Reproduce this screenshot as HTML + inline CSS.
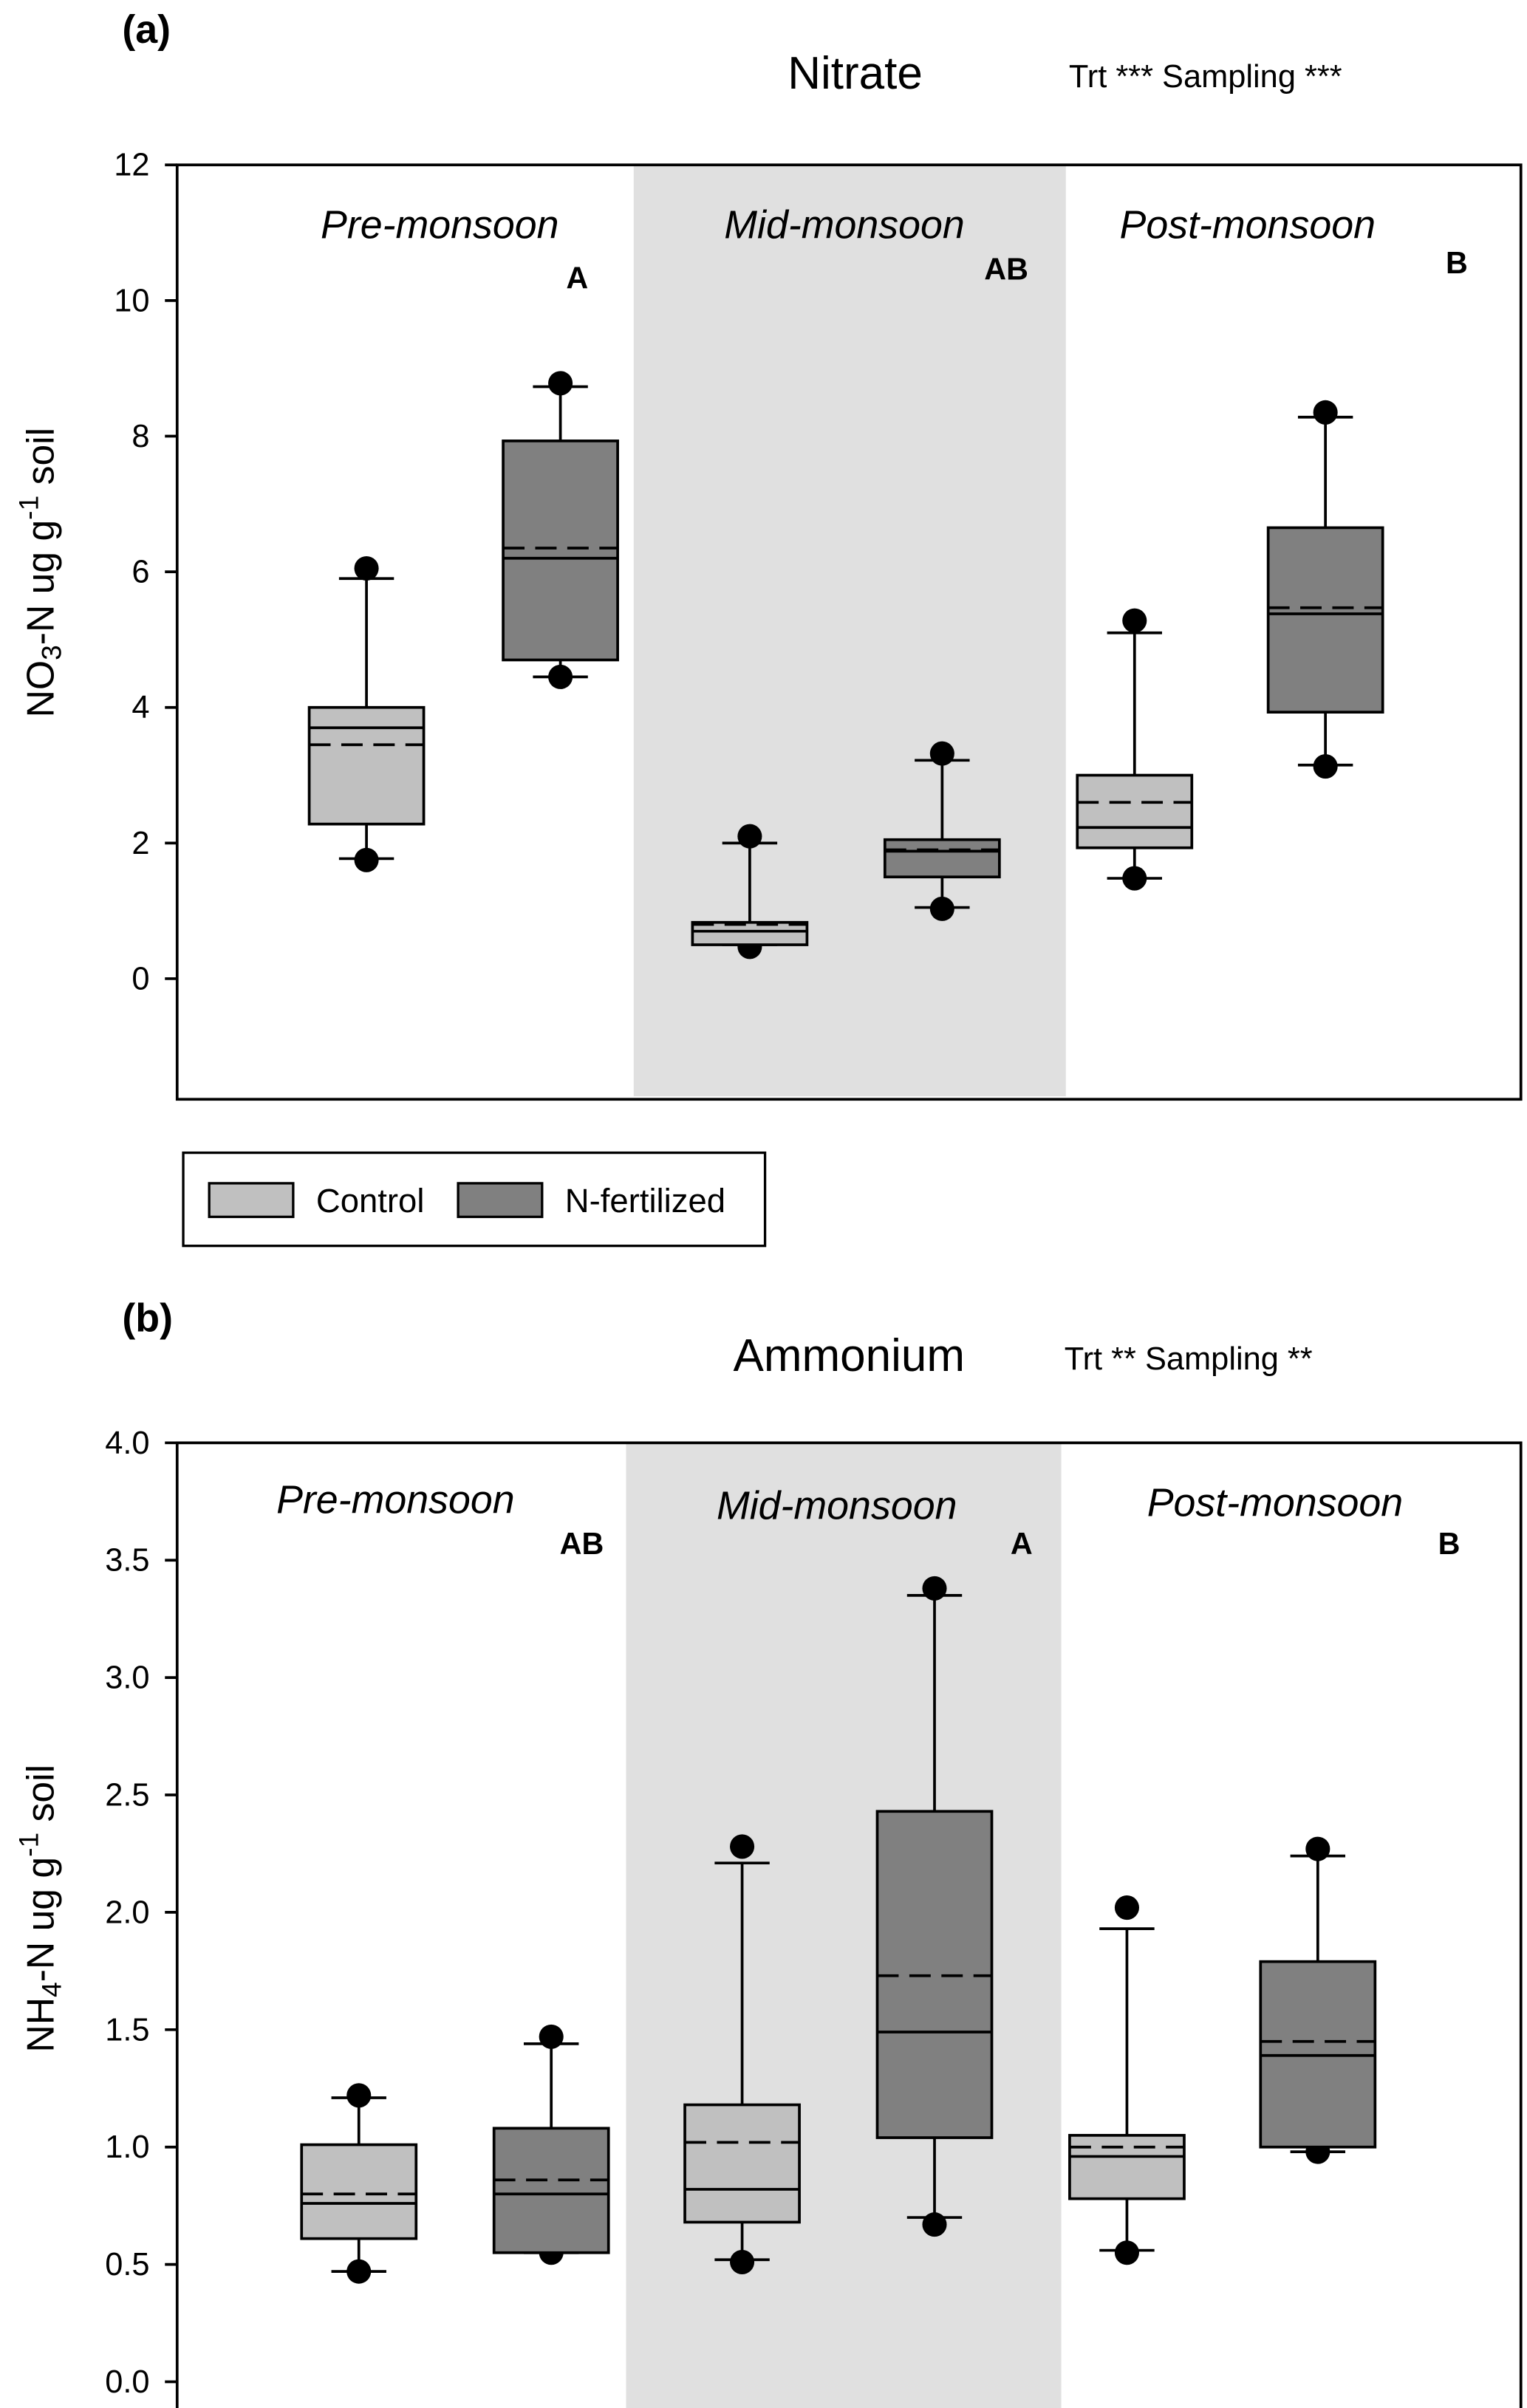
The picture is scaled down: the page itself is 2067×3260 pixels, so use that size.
<!DOCTYPE html>
<html><head><meta charset="utf-8"><style>
html,body{margin:0;padding:0;background:#fff}
svg{display:block}
text{font-family:"Liberation Sans",sans-serif;fill:#000}
</style></head><body>
<svg id="chart" xmlns="http://www.w3.org/2000/svg" width="2067" height="3260" viewBox="0 0 1000 1577.16">
<rect width="1000" height="1577.16" fill="#fff"/>
<g id="panelA"></g>
<g id="panelB"></g>
<g>
  <rect x="120" y="755" width="381" height="61" fill="#fff" stroke="#000" stroke-width="1.6"/>
  <rect x="137" y="775" width="55" height="22" fill="#c0c0c0" stroke="#000" stroke-width="1.6"/>
  <text x="207" y="794" font-size="22">Control</text>
  <rect x="300" y="775" width="55" height="22" fill="#808080" stroke="#000" stroke-width="1.6"/>
  <text x="370" y="794" font-size="22">N-fertilized</text>
</g>
</svg>
<script>
// Panel A data (Nitrate)
const seasons = ["Pre-monsoon","Mid-monsoon","Post-monsoon"];
const groups = ["Control","N-fertilized"];
const aTicks = [0,2,4,6,8,10,12];
const aLetters = ["A","AB","B"];
const aWhiskerLo = [1.77,4.45,0.5,1.05,1.48,3.15];
const aQ1 = [2.28,4.7,0.5,1.5,1.93,3.93];
const aMedian = [3.7,6.2,0.7,1.88,2.23,5.38];
const aMean = [3.45,6.35,0.8,1.9,2.6,5.47];
const aQ3 = [4.0,7.93,0.83,2.05,3.0,6.65];
const aWhiskerHi = [5.9,8.73,2.0,3.22,5.1,8.28];
const aOutHi = [6.05,8.78,2.1,3.32,5.28,8.35];
const aOutLo = [1.75,4.45,0.47,1.03,1.48,3.13];
// Panel B data (Ammonium)
const bTicks = [0,0.5,1,1.5,2,2.5,3,3.5,4];
const bLetters = ["AB","A","B"];
const bWhiskerLo = [0.47,0.55,0.52,0.7,0.56,0.98];
const bQ1 = [0.61,0.55,0.68,1.04,0.78,1.0];
const bMedian = [0.76,0.8,0.82,1.49,0.96,1.39];
const bMean = [0.8,0.86,1.02,1.73,1.0,1.45];
const bQ3 = [1.01,1.08,1.18,2.43,1.05,1.79];
const bWhiskerHi = [1.21,1.44,2.21,3.35,1.93,2.24];
const bOutHi = [1.22,1.47,2.28,3.38,2.02,2.27];
const bOutLo = [0.47,0.55,0.51,0.67,0.55,0.98];

const NS="http://www.w3.org/2000/svg";
function mk(parent,tag,attrs,txt){const e=document.createElementNS(NS,tag);for(const k in attrs)e.setAttribute(k,attrs[k]);if(txt!==undefined)e.textContent=txt;parent.appendChild(e);return e;}

function panel(g,cfg){
  const y=v=>cfg.y0+(v-cfg.v0)*(cfg.y1-cfg.y0)/(cfg.v1-cfg.v0);
  const L=116,R=996,SW=1.8;
  const shade=mk(g,'rect',{x:cfg.shadeX0,y:cfg.top,width:cfg.shadeX1-cfg.shadeX0,height:cfg.bottom-cfg.top-2,fill:'#e0e0e0'});
  
  
  const fr=mk(g,'rect',{x:L,y:cfg.top,width:R-L,height:cfg.bottom-cfg.top,fill:'none',stroke:'#000','stroke-width':SW});
  
  
  cfg.ticks.forEach(t=>{
    const yy=y(t);
    const tk=mk(g,'line',{x1:L-8,x2:L,y1:yy,y2:yy,stroke:'#000','stroke-width':SW});
    
    
    const lb=mk(g,'text',{x:L-18,y:yy+7,'font-size':21,'text-anchor':'end'},cfg.fmt(t));
    
    
  });
  const yt=mk(g,'text',{x:0,y:0,'font-size':25,'text-anchor':'middle',transform:`translate(${cfg.ytx},${cfg.yty}) rotate(-90)`});
  
  
  mk(yt,'tspan',{},cfg.ion[0]);
  mk(yt,'tspan',{'font-size':18,dy:5},cfg.ion[1]);
  mk(yt,'tspan',{dy:-5},'-N ug g');
  mk(yt,'tspan',{'font-size':18,dy:-10},'-1');
  mk(yt,'tspan',{dy:10},' soil');
  const pl=mk(g,'text',{x:80,y:cfg.tagY,'font-size':26,'font-weight':'bold'},cfg.tag);
  
  
  const ti=mk(g,'text',{x:cfg.titleX,y:cfg.titleY,'font-size':30,'text-anchor':'middle'},cfg.title);
  
  
  const st=mk(g,'text',{x:cfg.statX,y:cfg.titleY-1,'font-size':21},cfg.stat);
  
  
  seasons.forEach((s,i)=>{
    const t=mk(g,'text',{x:cfg.seasonX[i],y:cfg.seasonY[i],'font-size':26,'font-style':'italic','text-anchor':'middle'},s);
    
    
    const l=mk(g,'text',{x:cfg.letterX[i],y:cfg.letterY[i],'font-size':20,'font-weight':'bold','text-anchor':'middle'},cfg.letters[i]);
    
    
  });
  const d=cfg.d;
  cfg.cx.forEach((cx,i)=>{
    const bg=mk(g,'g',{});
    
    
    const hw=37.5,cw=18;
    mk(bg,'line',{x1:cx,x2:cx,y1:y(d.hi[i]),y2:y(d.q3[i]),stroke:'#000','stroke-width':SW});
    mk(bg,'line',{x1:cx,x2:cx,y1:y(d.lo[i]),y2:y(d.q1[i]),stroke:'#000','stroke-width':SW});
    mk(bg,'line',{x1:cx-cw,x2:cx+cw,y1:y(d.hi[i]),y2:y(d.hi[i]),stroke:'#000','stroke-width':SW});
    mk(bg,'line',{x1:cx-cw,x2:cx+cw,y1:y(d.lo[i]),y2:y(d.lo[i]),stroke:'#000','stroke-width':SW});
    mk(bg,'circle',{cx:cx,cy:y(d.oh[i]),r:8,fill:'#000'});
    mk(bg,'circle',{cx:cx,cy:y(d.ol[i]),r:8,fill:'#000'});
    mk(bg,'rect',{x:cx-hw,y:y(d.q3[i]),width:2*hw,height:y(d.q1[i])-y(d.q3[i]),fill:i%2?'#808080':'#c0c0c0',stroke:'#000','stroke-width':SW});
    mk(bg,'line',{x1:cx-hw,x2:cx+hw,y1:y(d.med[i]),y2:y(d.med[i]),stroke:'#000','stroke-width':SW});
    mk(bg,'line',{x1:cx-hw,x2:cx+hw,y1:y(d.mean[i]),y2:y(d.mean[i]),stroke:'#000','stroke-width':SW,'stroke-dasharray':'14,7'});
  });
}

panel(document.getElementById('panelA'),{
  v0:0,v1:12,y0:641,y1:108,top:108,bottom:720,shadeX0:415,shadeX1:698,
  ticks:aTicks,fmt:t=>String(t),ytx:35,yty:375,ion:['NO','3'],
  tag:'(a)',tagY:28,title:'Nitrate',titleX:560,titleY:58,statX:700,stat:'Trt *** Sampling ***',
  seasonX:[288,553,817],seasonY:[156,156,156],letters:aLetters,letterX:[378,659,954],letterY:[189,183,179],
  cx:[240,367,491,617,743,868],
  d:{lo:aWhiskerLo,q1:aQ1,med:aMedian,mean:aMean,q3:aQ3,hi:aWhiskerHi,oh:aOutHi,ol:aOutLo}
});
panel(document.getElementById('panelB'),{
  v0:0,v1:4,y0:1560,y1:945,top:945,bottom:1600,shadeX0:410,shadeX1:695,
  ticks:bTicks,fmt:t=>t.toFixed(1),ytx:35,yty:1250,ion:['NH','4'],
  tag:'(b)',tagY:872,title:'Ammonium',titleX:556,titleY:898,statX:697,stat:'Trt ** Sampling **',
  seasonX:[259,548,835],seasonY:[991,995,993],letters:bLetters,letterX:[381,669,949],letterY:[1018,1018,1018],
  cx:[235,361,486,612,738,863],
  d:{lo:bWhiskerLo,q1:bQ1,med:bMedian,mean:bMean,q3:bQ3,hi:bWhiskerHi,oh:bOutHi,ol:bOutLo}
});
</script>
</body></html>
